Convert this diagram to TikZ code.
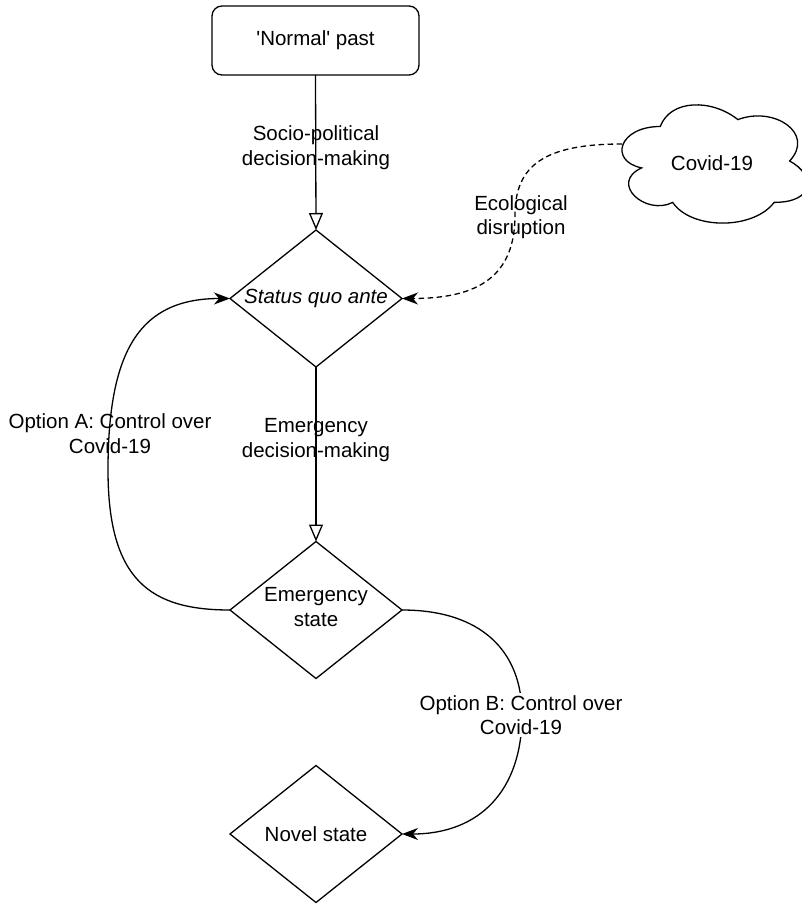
\documentclass[tikz,border=0pt]{standalone}
\usepackage{fontspec}
\setmainfont{Liberation Sans}
\usetikzlibrary{shapes.geometric,arrows.meta}
\begin{document}
\begin{tikzpicture}[x=1pt,y=-1pt,
  every node/.style={font=\fontsize{20.5}{24.5}\selectfont, align=center, inner sep=0pt, outer sep=0pt},
  ln/.style={line width=1.3pt, draw=black},
  dia/.style={diamond, draw, line width=1.3pt, minimum width=172pt, minimum height=137pt, inner sep=0pt, outer sep=0pt},
  openarr/.style={-{Triangle[open,length=17pt,width=14pt]}},
  fullarr/.style={-{Stealth[length=16pt,width=12pt,inset=5pt]}},
  dashline/.style={dash pattern=on 5.5pt off 3.5pt},
  boxlbl/.style={fill=white, inner sep=2pt},
]
\useasboundingbox (0,0) rectangle (802,904);
\clip (0,0) rectangle (802,904);

% nodes
\node[draw, line width=1.3pt, rounded corners=10pt, minimum width=207pt, minimum height=69pt] (past) at (315.5,40.5) {\textquotesingle Normal\textquotesingle\ past};
\node[dia] (sqa) at (316,298.5) {};
\node (sqat) at (316,298) {\itshape Status quo ante};
\node[dia] (em) at (316,610) {};
\node (emt) at (316,607) {Emergency\\state};
\node[dia] (nov) at (316,834) {};
\node (novt) at (316,834) {Novel state};

% cloud
\draw[ln] (660.25,126.5)
  .. controls (618.85,126.5) and (608.5,161) .. (641.62,167.9)
  .. controls (608.5,183.08) and (645.76,216.2) .. (672.67,202.4)
  .. controls (691.3,230) and (753.4,230) .. (774.1,202.4)
  .. controls (815.5,202.4) and (815.5,174.8) .. (789.6,161)
  .. controls (815.5,133.4) and (774.1,105.8) .. (737.9,119.6)
  .. controls (712,98.9) and (670.6,98.9) .. (660.25,126.5) -- cycle;
\node (covid) at (712,163) {Covid-19};
\coordinate (cloudw) at (622,144);

% connectors
\draw[ln, openarr] (past.south) -- (sqa.north);
\draw[ln, openarr] (sqa.south) -- (em.north);
\draw[ln, fullarr] (em.west) .. controls (150,610) and (108,580) .. (108,470)
  .. controls (108,350) and (140,298.5) .. (sqa.west);
\draw[ln, dashline, fullarr] (cloudw) .. controls (545,144) and (515,165) .. (515,215)
  .. controls (515,275) and (480,298.5) .. (sqa.east);
\draw[ln, fullarr] (em.east) .. controls (480,610) and (522,650) .. (522,715)
  .. controls (522,790) and (480,834) .. (nov.east);

% labels
\node (lsp) at (316,147.5) {Socio-political\\decision-making};
\node (led) at (316,440) {Emergency\\decision-making};
\node (lopa) at (110,433.5) {Option A: Control over\\Covid-19};
\node[boxlbl] (lopb) at (521,715) {Option B: Control over\\Covid-19};
\node (leco) at (521,217) {Ecological\\disruption};
\end{tikzpicture}
\end{document}
